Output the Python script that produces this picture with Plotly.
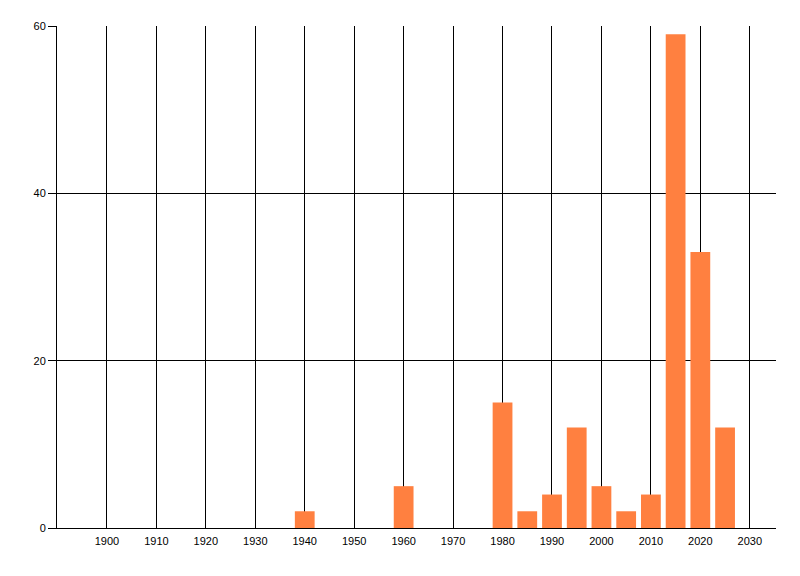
import plotly.graph_objects as go

years = [1940, 1960, 1980, 1985, 1990, 1995, 2000, 2005, 2010, 2015, 2020, 2025]
counts = [2, 5, 15, 2, 4, 12, 5, 2, 4, 59, 33, 12]
x_ticks = list(range(1900, 2031, 10))
y_ticks = [0, 20, 40, 60]

fig = go.Figure(go.Bar(x=years, y=counts, width=4, marker=dict(color="rgb(255,128,64)", line=dict(width=0))))

fig.update_layout(
    width=800, height=576,
    margin=dict(l=49, r=32, t=18, b=56),
    paper_bgcolor="white", plot_bgcolor="white",
    font=dict(family="Liberation Sans, Arial, sans-serif", size=11, color="black"),
    showlegend=False,
    xaxis=dict(range=[1889.9, 2035.3], tickvals=x_ticks, ticktext=[str(v) for v in x_ticks],
               showgrid=True, gridcolor="black", gridwidth=1, zeroline=False,
               showline=True, linecolor="black", linewidth=1,
               ticks="", ticklabelstandoff=3, tickfont=dict(size=11)),
    yaxis=dict(range=[0, 60], tickvals=y_ticks, showgrid=True, gridcolor="black", gridwidth=1,
               zeroline=False, showline=True, linecolor="black", linewidth=1,
               ticks="outside", ticklen=8, tickcolor="black", tickwidth=1, tickfont=dict(size=11)),
)
fig.write_html("out.html")
